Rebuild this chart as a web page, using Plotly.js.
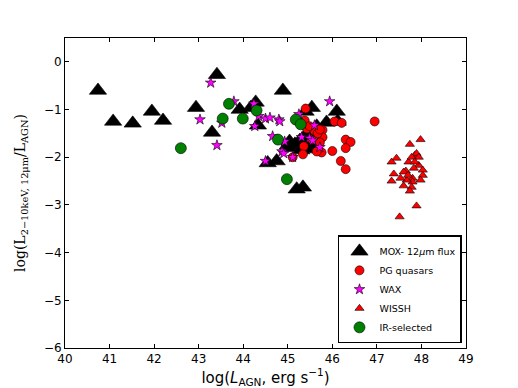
<!DOCTYPE html>
<html>
<head>
<meta charset="utf-8">
<script src="https://cdn.plot.ly/plotly-3.0.1.min.js"></script>
<style>body{margin:0;background:#fff;}</style>
</head>
<body>
<div id="chart" style="width:518px;height:388px;"></div>
<script>
// MOX- 12um flux
var moxX = [40.74, 41.08, 41.52, 41.95, 42.2, 42.94, 43.41, 43.3, 43.92, 44.17, 44.28, 44.33, 44.55, 44.75, 44.89,
	45.54, 45.4, 46.1, 46.12, 45.87, 45.65, 45.04, 45.16, 45.49, 45.2, 45.34, 45.38, 45.27, 45.1, 45.6, 45.45, 45.0, 45.55, 45.3];
var moxY = [-0.60, -1.25, -1.29, -1.04, -1.23, -0.96, -0.27, -1.48, -1.0, -0.96, -0.85, -1.33, -2.12, -2.08, -0.60,
	-0.96, -1.04, -1.04, -1.25, -1.27, -1.35, -1.67, -1.73, -1.83, -2.67, -2.63, -1.56, -1.65, -1.80, -1.75, -1.7, -1.75, -1.5, -1.85];
// PG quasars
var pgX = [46.95, 46.05, 46.21, 45.78, 45.78, 46.3, 46.41, 46.3, 46.0, 45.76, 46.19, 46.3, 45.4, 45.38, 45.43,
	45.6, 45.67, 45.36, 45.34, 45.65, 45.72, 45.54, 45.11, 45.49, 45.72];
var pgY = [-1.25, -1.25, -1.28, -1.43, -1.58, -1.63, -1.68, -1.81, -1.87, -1.9, -2.08, -2.25, -0.98, -1.23, -1.4,
	-1.45, -1.5, -1.77, -1.94, -1.88, -1.69, -1.63, -2.0, -1.35, -1.42];
// WAX
var waxX = [43.27, 43.03, 43.52, 43.41, 43.79, 44.24, 44.35, 44.26, 44.5, 44.6, 44.8, 44.66, 44.5, 45.94, 44.82,
	45.25, 45.6, 44.93, 45.31, 45.49, 45.56, 45.72, 44.87, 44.91, 45.11];
var waxY = [-0.44, -1.21, -1.28, -1.75, -0.83, -0.88, -1.14, -1.35, -1.19, -1.17, -1.21, -1.56, -2.08, -0.83, -1.25,
	-1.1, -1.33, -1.67, -1.58, -1.6, -1.65, -1.79, -1.88, -1.92, -2.0];
// WISSH
var wisshX = [47.98, 47.74, 47.71, 47.85, 47.89, 47.94, 47.78, 47.44, 47.33, 47.94, 48.03, 48.03, 47.98, 47.83, 47.8,
	47.8, 47.78, 47.65, 47.6, 47.67, 47.38, 47.33, 47.53, 47.6, 47.74, 47.89, 47.51, 47.7, 47.85];
var wisshY = [-1.63, -1.73, -2.1, -1.96, -1.92, -2.0, -2.0, -2.02, -2.1, -2.17, -2.27, -2.38, -2.48, -2.23, -2.44,
	-2.52, -2.63, -2.29, -2.31, -2.48, -2.35, -2.5, -2.44, -2.6, -2.71, -3.02, -3.25, -2.38, -2.1];
// IR-selected
var irX = [42.6, 43.68, 43.54, 43.99, 44.3, 44.78, 45.18, 45.29, 44.98];
var irY = [-1.81, -0.88, -1.19, -1.19, -1.02, -1.63, -1.21, -1.31, -2.46];

function pts(name, x, y, symbol, color, size) {
	return {
		type: 'scatter', mode: 'markers', name: name, x: x, y: y,
		marker: {symbol: symbol, color: color, size: size, line: {color: '#000', width: 0.6}}
	};
}

var data = [
	pts('MOX- 12<i>μ</i>m flux', moxX, moxY, 'triangle-up', '#000000', 15),
	pts('PG quasars', pgX, pgY, 'circle', '#ff0000', 9),
	pts('WAX', waxX, waxY, 'star', '#ff00ff', 8),
	pts('WISSH', wisshX, wisshY, 'triangle-up', '#ff0000', 8),
	pts('IR-selected', irX, irY, 'circle', '#008000', 11)
];

var axisBase = {
	showline: true, linecolor: '#000', linewidth: 1, mirror: 'ticks',
	ticks: 'inside', ticklen: 4, tickcolor: '#000', showgrid: false, zeroline: false,
	tickfont: {size: 12, color: '#000'}
};

var layout = {
	width: 518, height: 388,
	margin: {l: 65, r: 52, t: 38, b: 40},
	paper_bgcolor: '#fff', plot_bgcolor: '#fff',
	font: {family: 'DejaVu Sans', color: '#000'},
	xaxis: Object.assign({}, axisBase, {
		range: [40, 49], dtick: 1, tick0: 40,
		title: {text: 'log(<i>L</i><sub>AGN</sub>, erg s<sup>−1</sup>)', font: {size: 15, family: 'DejaVu Sans'}, standoff: 6}
	}),
	yaxis: Object.assign({}, axisBase, {
		range: [-6, 0.5], dtick: 1, tick0: 0,
		title: {text: 'log(L<sub>2−10keV, 12μm</sub>/L<sub>AGN</sub>)', font: {size: 14, family: 'DejaVu Serif'}, standoff: 14}
	}),
	showlegend: true,
	legend: {
		x: 0.99, y: 0.015, xanchor: 'right', yanchor: 'bottom',
		bordercolor: '#000', borderwidth: 1.5, bgcolor: '#fff',
		font: {size: 9.5}, tracegroupgap: 0, itemwidth: 30
	}
};

Plotly.newPlot('chart', data, layout, {displayModeBar: false});
</script>
</body>
</html>
